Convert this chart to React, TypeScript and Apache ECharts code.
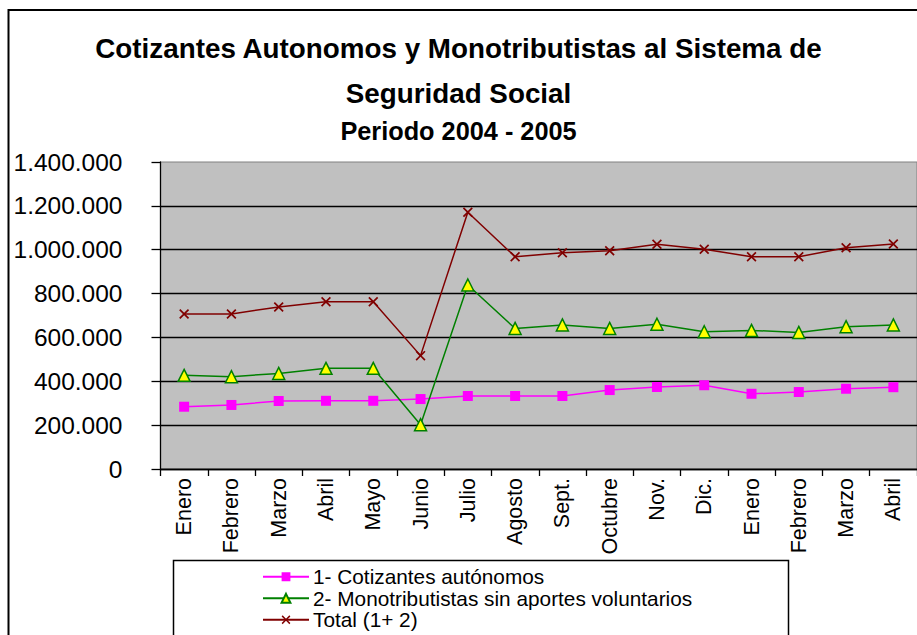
import React, { useEffect, useRef } from "react";
import * as echarts from "echarts";

const categories = [
  "Enero", "Febrero", "Marzo", "Abril", "Mayo", "Junio", "Julio", "Agosto",
  "Sept.", "Octubre", "Nov.", "Dic.", "Enero", "Febrero", "Marzo", "Abril",
];

const cotizantes = [
  284000, 292000, 310000, 311000, 311000, 319000, 333000, 333000,
  333000, 360000, 374000, 382000, 343000, 351000, 366000, 373000,
];

const monotributistas = [
  427000, 421000, 436000, 459000, 459000, 202000, 839000, 641000,
  657000, 641000, 660000, 626000, 632000, 623000, 649000, 657000,
];

const total = [
  707000, 707000, 739000, 763000, 763000, 517000, 1171000, 968000,
  986000, 995000, 1025000, 1002000, 968000, 968000, 1009000, 1026000,
];

const seriesNames = [
  "1- Cotizantes autónomos",
  "2- Monotributistas sin aportes voluntarios",
  "Total (1+ 2)",
];

const FONT = "Arial, 'Liberation Sans', sans-serif";
const X_SYMBOL =
  "path://M0,1.2 L1.2,0 L5,3.8 L8.8,0 L10,1.2 L6.2,5 L10,8.8 L8.8,10 L5,6.2 L1.2,10 L0,8.8 L3.8,5 Z";

const fmt = (v: number) => String(v).replace(/\B(?=(\d{3})+(?!\d))/g, ".");

export default function App() {
  const ref = useRef<HTMLDivElement>(null);

  useEffect(() => {
    if (!ref.current) return;
    const chart = echarts.init(ref.current, null, { renderer: "svg" });
    chart.setOption({
      animation: false,
      backgroundColor: "#ffffff",
      title: {
        text: "Cotizantes Autonomos y Monotributistas al Sistema de\nSeguridad Social",
        subtext: "Periodo 2004 - 2005",
        left: "center",
        top: 26,
        padding: 0,
        itemGap: 0,
        textStyle: {
          fontFamily: FONT,
          fontWeight: "bold",
          fontSize: 27.8,
          lineHeight: 45,
          color: "#000",
        },
        subtextStyle: {
          fontFamily: FONT,
          fontWeight: "bold",
          fontSize: 25.3,
          lineHeight: 30,
          color: "#000",
        },
      },
      graphic: [
        {
          type: "rect",
          z: 0,
          shape: { x: 8.5, y: 10, width: 1000, height: 700 },
          style: { fill: "none", stroke: "#000", lineWidth: 2 },
        },
        {
          type: "rect",
          z: 0,
          shape: { x: 173.5, y: 560.5, width: 615, height: 100 },
          style: { fill: "#fff", stroke: "#000", lineWidth: 1.5 },
        },
      ],
      legend: {
        orient: "vertical",
        left: 262,
        top: 566,
        padding: 0,
        itemGap: 0,
        itemWidth: 46,
        itemHeight: 11,
        data: seriesNames,
        textStyle: {
          fontFamily: FONT,
          fontSize: 20.8,
          lineHeight: 21.5,
          color: "#000",
          padding: [0, 0, 0, -1],
        },
      },
      grid: {
        left: 160.5,
        top: 162,
        width: 771,
        height: 307,
        show: true,
        backgroundColor: "#C0C0C0",
        borderColor: "#808080",
        borderWidth: 1,
      },
      xAxis: {
        type: "category",
        data: categories,
        boundaryGap: true,
        axisLine: { show: true, lineStyle: { color: "#000", width: 1.3 } },
        axisTick: { show: true, length: 7, inside: false, lineStyle: { color: "#000", width: 1.3 } },
        axisLabel: {
          rotate: 90,
          interval: 0,
          margin: 9,
          fontFamily: FONT,
          fontSize: 21.5,
          color: "#000",
        },
        splitLine: { show: false },
      },
      yAxis: {
        type: "value",
        min: 0,
        max: 1400000,
        interval: 200000,
        axisLine: { show: true, lineStyle: { color: "#000", width: 1.3 } },
        axisTick: { show: true, length: 9, inside: false, lineStyle: { color: "#000", width: 1.3 } },
        axisLabel: {
          margin: 38,
          fontFamily: FONT,
          fontSize: 24.5,
          color: "#000",
          formatter: (v: number) => fmt(v),
        },
        splitLine: {
          show: true,
          showMaxLine: false,
          lineStyle: { color: "#000", width: 1.3 },
        },
      },
      series: [
        {
          name: seriesNames[0],
          type: "line",
          data: cotizantes,
          symbol: "rect",
          symbolSize: 10,
          lineStyle: { color: "#FF00FF", width: 1.5 },
          itemStyle: { color: "#FF00FF" },
          z: 3,
        },
        {
          name: seriesNames[1],
          type: "line",
          data: monotributistas,
          symbol: "triangle",
          symbolSize: 12,
          lineStyle: { color: "#008000", width: 1.5 },
          itemStyle: { color: "#FFFF00", borderColor: "#008000", borderWidth: 1.5 },
          z: 3,
        },
        {
          name: seriesNames[2],
          type: "line",
          data: total,
          symbol: X_SYMBOL,
          symbolSize: 10,
          lineStyle: { color: "#800000", width: 1.5 },
          itemStyle: { color: "#800000" },
          z: 3,
        },
      ],
    });
    return () => chart.dispose();
  }, []);

  return (
    <div
      ref={ref}
      style={{ position: "fixed", left: 0, top: 0, width: 917, height: 635 }}
    />
  );
}
